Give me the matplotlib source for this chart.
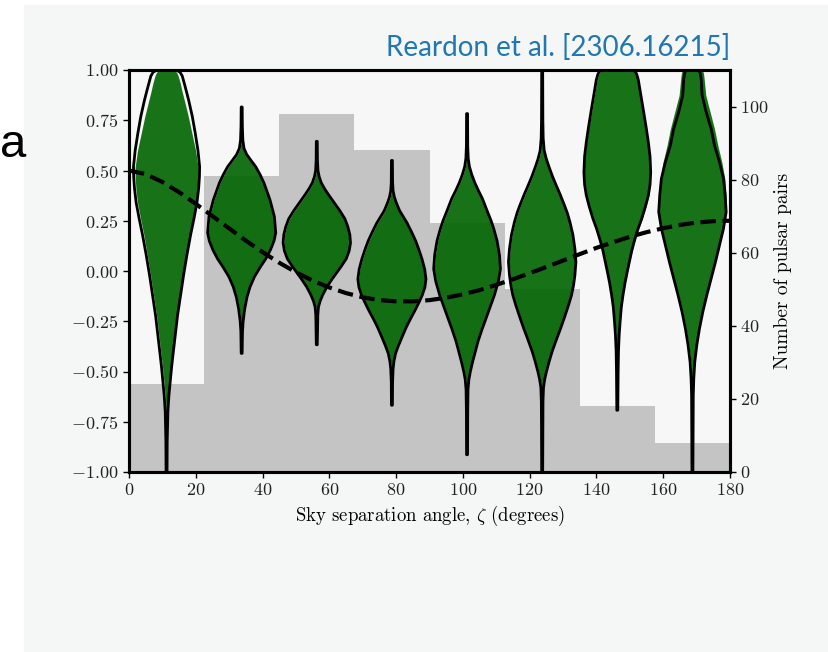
import numpy as np
import matplotlib
matplotlib.use('Agg')
import matplotlib.pyplot as plt
from matplotlib.patches import Rectangle

plt.rcParams['font.family'] = 'serif'
plt.rcParams['font.serif'] = ['cmr10']
plt.rcParams['mathtext.fontset'] = 'cm'
plt.rcParams['axes.formatter.use_mathtext'] = True

# histogram of pulsar pairs per angular bin
bin_edges = [0, 22.5, 45, 67.5, 90, 112.5, 135, 157.5, 180]
pair_counts = [24, 81, 98, 88, 68, 50, 18, 8]
positions = [11.25, 33.75, 56.25, 78.75, 101.25, 123.75, 146.25, 168.75]

# Hellings-Downs curve
hd_angle = [0, 5, 10, 15, 20, 25, 30, 35, 40, 45, 50, 55, 60, 65, 70, 75, 80, 85, 90,
            95, 100, 105, 110, 115, 120, 125, 130, 135, 140, 145, 150, 155, 160, 165, 170, 175, 180]
hd_corr = [0.500, 0.482, 0.443, 0.392, 0.334, 0.273, 0.212, 0.151, 0.094, 0.041, -0.006,
           -0.048, -0.082, -0.110, -0.131, -0.145, -0.151, -0.151, -0.145, -0.133, -0.116,
           -0.095, -0.069, -0.041, -0.011, 0.020, 0.052, 0.084, 0.115, 0.143, 0.170, 0.193,
           0.213, 0.229, 0.241, 0.248, 0.250]

# violin profiles: correlation value and half width (degrees), black outline
violin_y = [
    [-1.0, -0.85, -0.70, -0.62, -0.55, -0.48, -0.42, -0.32, -0.22, -0.12, -0.02, 0.08, 0.18, 0.26,
     0.34, 0.41, 0.47, 0.519, 0.60, 0.685, 0.77, 0.851, 0.89, 0.934, 0.97, 0.99, 1.0],
    [-0.41, -0.30, -0.25, -0.19, -0.13, -0.08, -0.03, 0.02, 0.06, 0.104, 0.15, 0.19, 0.27, 0.353,
     0.437, 0.48, 0.519, 0.55, 0.58, 0.61, 0.65, 0.72, 0.816],
    [-0.367, -0.22, -0.18, -0.15, -0.12, -0.08, -0.04, -0.01, 0.02, 0.06, 0.10, 0.14, 0.18, 0.22,
     0.26, 0.30, 0.34, 0.38, 0.41, 0.44, 0.47, 0.50, 0.55, 0.645],
    [-0.668, -0.55, -0.49, -0.45, -0.41, -0.37, -0.33, -0.28, -0.24, -0.20, -0.16, -0.12, -0.08,
     -0.04, 0.01, 0.06, 0.11, 0.15, 0.19, 0.24, 0.27, 0.30, 0.34, 0.37, 0.40, 0.44, 0.55],
    [-0.914, -0.70, -0.59, -0.54, -0.50, -0.45, -0.40, -0.35, -0.29, -0.24, -0.18, -0.12, -0.05,
     0.01, 0.08, 0.15, 0.21, 0.25, 0.30, 0.36, 0.40, 0.44, 0.48, 0.52, 0.56, 0.62, 0.783],
    [-1.0, -0.80, -0.65, -0.58, -0.54, -0.50, -0.45, -0.40, -0.34, -0.287, -0.23, -0.17, -0.12,
     -0.07, -0.02, 0.045, 0.11, 0.18, 0.244, 0.29, 0.33, 0.38, 0.426, 0.47, 0.52, 0.56, 0.60,
     0.66, 0.75, 0.987],
    [-0.693, -0.50, -0.40, -0.32, -0.25, -0.18, -0.12, -0.06, -0.01, 0.045, 0.10, 0.15, 0.21,
     0.26, 0.32, 0.377, 0.43, 0.49, 0.57, 0.64, 0.708, 0.78, 0.85, 0.92, 0.95, 0.98, 0.995, 1.0],
    [-1.0, -0.80, -0.62, -0.536, -0.453, -0.37, -0.287, -0.204, -0.121, -0.038, 0.045, 0.128,
     0.211, 0.294, 0.376, 0.459, 0.542, 0.625, 0.708, 0.791, 0.874, 0.957, 0.985, 1.0],
]
violin_w = [
    [0.15, 0.2, 0.4, 0.7, 1.1, 1.5, 1.9, 2.6, 3.3, 4.2, 5.1, 6.1, 7.2, 8.2, 9.1, 9.6, 9.85, 9.9,
     9.4, 8.6, 7.7, 6.6, 6.0, 5.3, 4.7, 4.0, 2.8],
    [0.15, 0.25, 0.45, 0.9, 1.6, 2.5, 3.8, 5.6, 7.2, 8.6, 9.7, 10.2, 9.8, 8.5, 6.7, 5.5, 4.2, 2.8,
     1.5, 0.7, 0.35, 0.2, 0.15],
    [0.15, 0.3, 0.5, 1.0, 1.75, 3.0, 4.6, 5.9, 7.2, 8.8, 9.7, 10.1, 9.9, 9.3, 8.4, 6.9, 5.2, 3.5,
     2.3, 1.3, 0.7, 0.35, 0.2, 0.15],
    [0.15, 0.2, 0.35, 0.6, 1.1, 2.0, 3.0, 4.3, 5.5, 6.8, 8.0, 9.1, 9.9, 10.2, 9.8, 9.0, 8.0, 7.1,
     6.0, 4.5, 3.4, 2.3, 1.3, 0.7, 0.35, 0.2, 0.15],
    [0.15, 0.2, 0.3, 0.55, 1.0, 1.7, 2.5, 3.3, 4.5, 5.6, 6.9, 8.2, 9.4, 10.0, 9.7, 9.0, 8.0, 7.2,
     6.0, 4.6, 3.4, 2.3, 1.4, 0.7, 0.35, 0.2, 0.15],
    [0.15, 0.2, 0.25, 0.4, 0.75, 1.3, 2.1, 3.0, 4.3, 5.5, 6.7, 7.9, 8.8, 9.4, 9.8, 10.1, 9.8, 9.2,
     8.3, 7.5, 6.6, 5.4, 4.2, 3.1, 2.0, 1.2, 0.6, 0.3, 0.2, 0.15],
    [0.15, 0.25, 0.35, 0.55, 0.85, 1.2, 1.7, 2.3, 2.9, 3.6, 4.3, 5.1, 6.2, 7.3, 8.4, 9.3, 9.8,
     10.0, 9.8, 9.3, 8.7, 8.0, 7.3, 6.6, 6.3, 5.8, 5.2, 4.4],
    [0.15, 0.2, 0.25, 0.4, 0.7, 1.3, 2.1, 3.1, 4.3, 5.6, 6.9, 8.1, 9.3, 10.1, 9.8, 9.3, 8.1, 6.6,
     5.6, 4.1, 2.9, 2.6, 2.3, 1.9],
]
# green filled violins (same as outline except the first and the last two)
green_w = [
    [0.1, 0.15, 0.35, 0.6, 1.0, 1.4, 1.8, 2.5, 3.2, 4.1, 5.0, 6.0, 7.0, 8.0, 8.9, 9.4, 9.6, 9.6,
     8.9, 7.8, 6.7, 5.5, 4.9, 4.3, 3.7, 3.2, 2.5],
    violin_w[1], violin_w[2], violin_w[3], violin_w[4], violin_w[5],
    [0.15, 0.25, 0.35, 0.55, 0.9, 1.3, 1.9, 2.6, 3.2, 3.9, 4.7, 5.5, 6.6, 7.7, 8.8, 9.7, 10.1,
     10.2, 9.9, 9.4, 8.8, 8.0, 7.3, 6.6, 6.3, 5.8, 5.2, 4.4],
    [0.15, 0.2, 0.25, 0.4, 0.7, 1.3, 2.1, 3.1, 4.3, 5.7, 7.0, 8.3, 9.5, 10.3, 10.3, 9.9, 9.0,
     7.8, 6.8, 5.5, 4.2, 3.7, 3.5, 3.2],
]


def vstats(ys, ws):
    return [dict(coords=np.array(y), vals=np.array(w), mean=0.0, median=0.0,
                 min=y[0], max=y[-1]) for y, w in zip(ys, ws)]


fig = plt.figure(figsize=(8.29, 6.52), dpi=100)
fig.add_artist(Rectangle((24 / 829, 1 / 652), 805 / 829, 646 / 652, transform=fig.transFigure,
                         color='#f5f6f6', zorder=-10))

ax = fig.add_axes([129 / 829, 1 - 472 / 652, 601 / 829, 402 / 652])
ax2 = ax.twinx()
ax.set_zorder(2)
ax2.set_zorder(1)
ax.patch.set_visible(False)
ax2.patch.set_visible(True)
ax2.patch.set_facecolor('#f7f7f7')

ax2.stairs(pair_counts, bin_edges, fill=True, color='#c4c4c4', lw=0)
ax2.set_ylim(0, 110)
ax2.set_yticks([0, 20, 40, 60, 80, 100])
ax2.set_ylabel('Number of pulsar pairs', fontsize=14, labelpad=4)

g = ax.violin(vstats(violin_y, green_w), positions, widths=[2 * max(w) for w in green_w],
              showextrema=False)
for b in g['bodies']:
    b.set_facecolor('darkgreen')
    b.set_edgecolor('white')
    b.set_alpha(0.9)
    b.set_linewidth(1)
    b.set_joinstyle('round')

k = ax.violin(vstats(violin_y, violin_w), positions, widths=[2 * max(w) for w in violin_w],
              showextrema=False)
for b in k['bodies']:
    b.set_facecolor('none')
    b.set_edgecolor('black')
    b.set_alpha(1)
    b.set_linewidth(2)
    b.set_joinstyle('round')

ax.plot(hd_angle, hd_corr, 'k--', lw=3, zorder=5)

ax.set_xlim(0, 180)
ax.set_ylim(-1, 1)
ax.set_xticks(np.arange(0, 181, 20))
ax.set_yticks(np.arange(-1, 1.01, 0.25))
ax.set_xlabel('Sky separation angle, $\\zeta$ (degrees)', fontsize=13.5)

for a in (ax, ax2):
    a.tick_params(labelsize=13, labelcolor='#222222', length=4, width=1)
    for s in a.spines.values():
        s.set_linewidth(2.2)

fig.text(730 / 829, 1 - 47 / 652, 'Reardon et al. [2306.16215]', ha='right', va='center',
         color='#1f77b4', fontsize=20, family='Lato')
fig.text(0, 1 - 145 / 652, 'a', ha='left', va='center', fontsize=34, family='Liberation Sans')

fig.savefig('out.png', dpi=100)
